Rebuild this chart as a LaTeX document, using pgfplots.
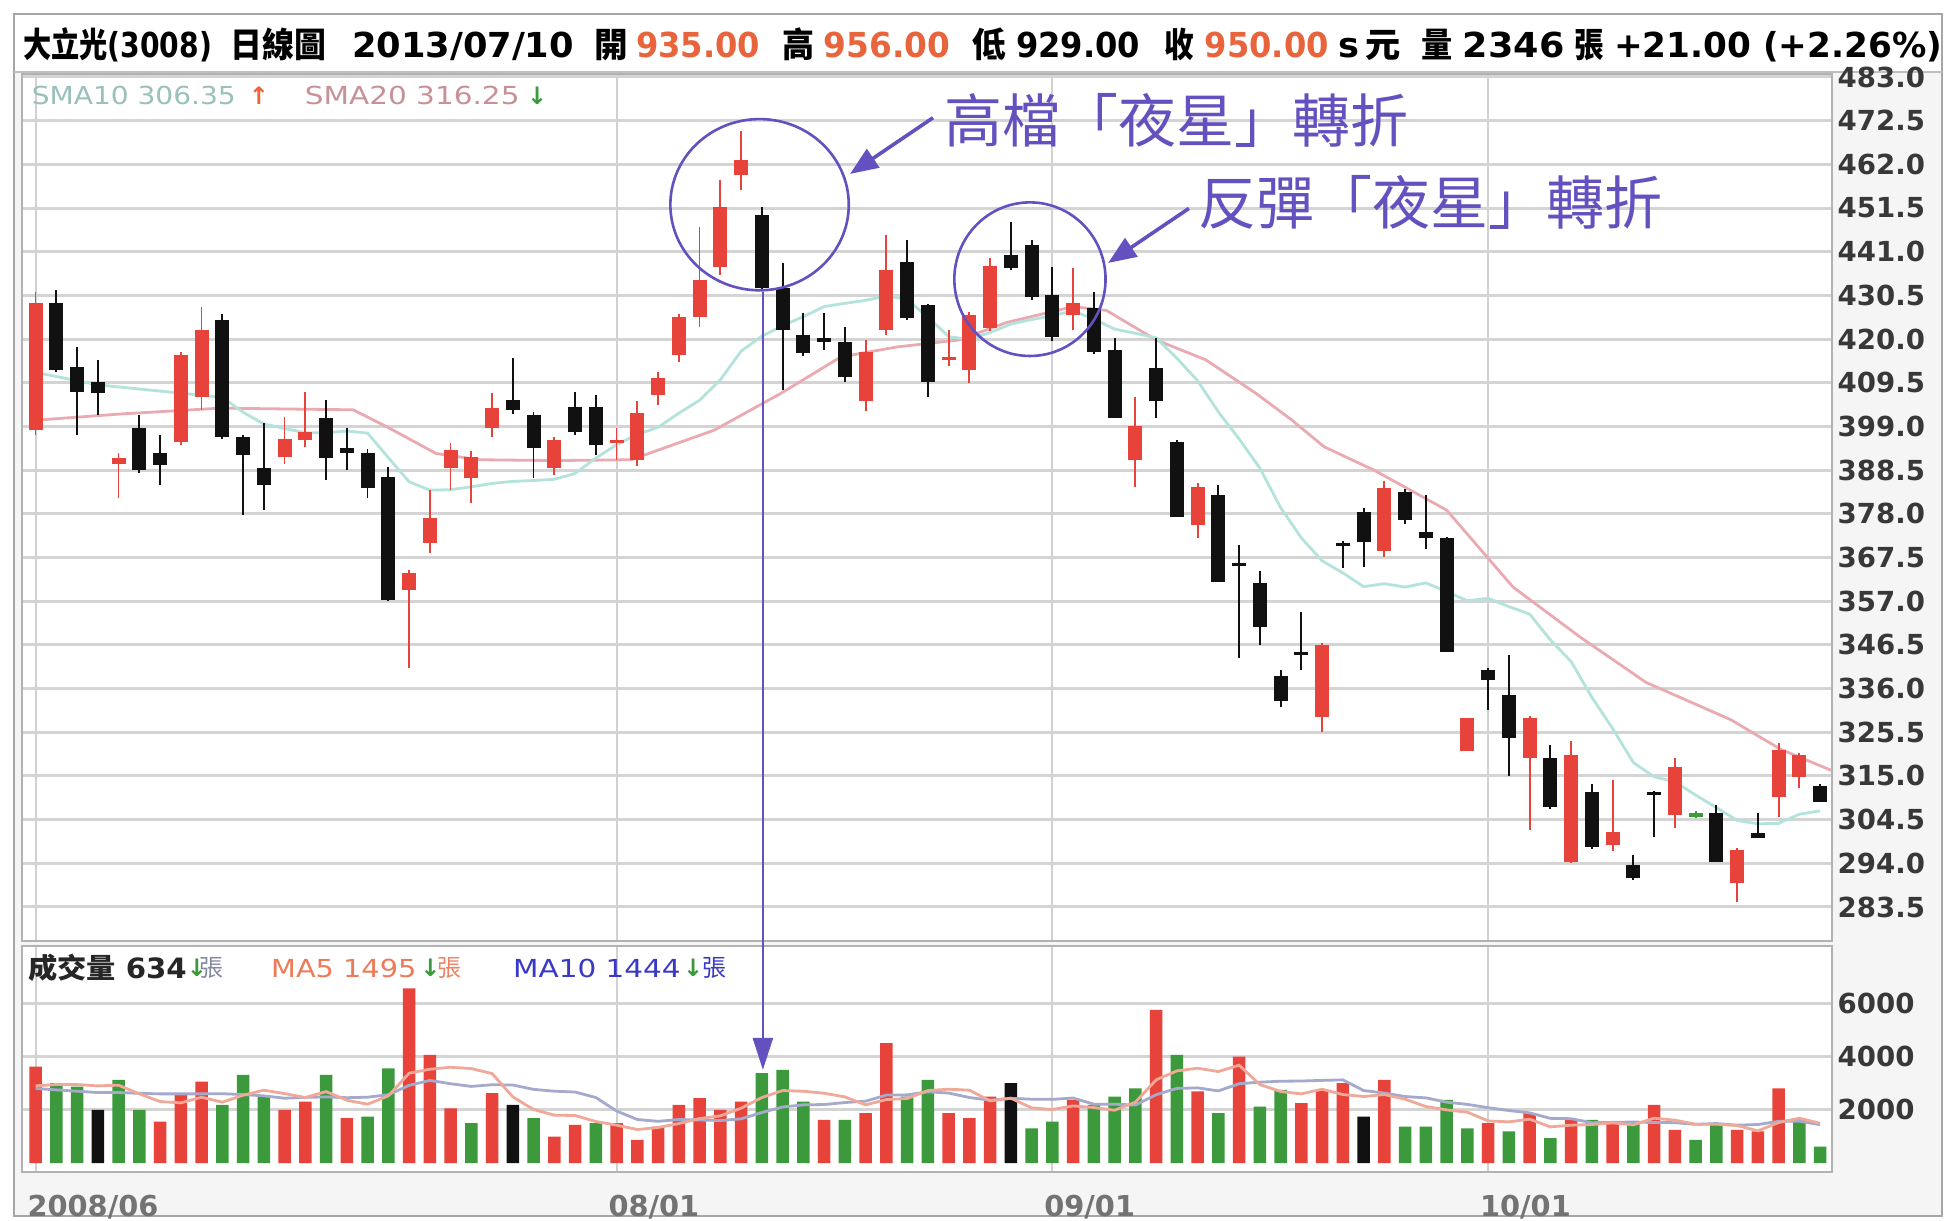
\documentclass[border=0pt]{standalone}
\usepackage{fontspec}
\setmainfont{DejaVu Sans}
\newfontfamily\cjk{Noto Sans CJK TC}
\usepackage{graphicx}
\usepackage{pgfplots}
\usepackage{pgfplotstable}
\pgfplotsset{compat=1.18}
\usetikzlibrary{arrows.meta}

\definecolor{cred}{HTML}{E8433A}
\definecolor{cblk}{HTML}{111111}
\definecolor{cgrn}{HTML}{3C9A3C}
\definecolor{sma10}{HTML}{B4E2DC}
\definecolor{sma20}{HTML}{EAAAB2}
\definecolor{vma5}{HTML}{F0A898}
\definecolor{vma10}{HTML}{A4AACC}
\definecolor{ann}{HTML}{6450BE}
\definecolor{hdrorange}{HTML}{E8643C}
\definecolor{framebg}{HTML}{F5F5F5}

% red (up) candles: body lo/hi, wick l/h
\pgfplotstableread{
i lo hi l h
0 398.1 428.7 397.0 431.3
4 390.0 391.5 381.8 392.6
7 395.3 416.2 394.5 417.0
8 406.2 422.2 403.0 427.8
12 391.7 396.0 390.0 401.3
13 395.7 397.7 394.0 407.4
18 359.7 363.8 340.9 364.5
19 371.0 377.0 368.6 383.7
20 389.0 393.3 383.7 395.0
21 386.6 391.7 380.6 393.0
22 398.6 403.5 396.5 407.0
25 389.0 395.7 387.3 396.5
28 395.0 395.8 390.9 398.6
29 390.9 402.2 389.5 405.0
30 406.6 410.6 404.2 412.0
31 416.2 425.4 414.5 426.0
32 425.4 434.2 423.0 447.0
33 437.4 451.8 435.5 458.2
34 459.4 463.0 455.8 469.9
40 405.0 417.0 402.6 419.8
41 422.2 436.6 421.0 445.0
44 415.0 415.8 413.5 422.2
45 412.6 425.8 409.4 426.5
46 422.6 437.5 422.0 439.5
50 425.8 428.6 422.2 437.0
53 391.0 399.0 384.5 406.2
56 375.3 384.5 372.1 385.5
62 329.1 346.4 325.5 347.0
65 369.0 384.3 367.7 386.0
69 320.9 328.9 320.9 328.9
72 319.3 328.9 302.0 329.5
74 294.4 320.0 294.0 323.3
76 298.4 301.6 297.0 314.0
79 305.6 317.2 302.4 319.3
82 289.2 297.2 284.8 297.8
84 310.0 321.3 305.2 323.0
85 314.8 320.0 312.0 320.5
}\upc

% black (down) candles
\pgfplotstableread{
i lo hi l h
1 412.6 428.7 412.0 431.8
2 407.4 413.4 396.9 418.2
3 407.0 409.8 401.7 415.0
5 388.5 398.6 387.9 401.7
6 389.7 392.6 384.9 396.9
9 396.5 424.6 396.0 426.0
10 392.1 396.5 377.7 397.0
11 384.9 389.0 378.9 399.8
14 391.4 401.0 386.1 405.4
15 392.6 393.8 388.5 398.6
16 384.2 392.6 381.8 393.5
17 357.3 386.9 357.0 389.3
23 403.0 405.4 402.0 415.5
24 393.8 401.7 386.6 402.5
26 397.7 403.7 397.0 407.4
27 394.5 403.7 392.1 406.6
35 432.2 449.8 431.5 451.8
36 422.2 432.2 407.8 438.3
37 416.7 421.0 416.0 426.3
38 419.3 420.3 417.4 426.3
39 411.0 419.4 409.8 423.0
42 425.0 438.6 424.5 443.8
43 409.8 428.2 406.2 428.5
47 437.0 440.2 436.5 448.2
48 430.2 442.6 429.5 443.8
49 420.6 430.6 419.5 437.4
51 417.0 427.4 416.5 431.4
52 401.0 417.4 401.0 420.2
54 405.0 413.0 401.0 420.2
55 377.3 395.3 377.3 395.8
57 361.6 382.5 361.6 385.0
58 365.5 366.3 343.4 370.6
59 350.9 361.3 346.4 364.3
60 333.0 339.0 331.5 340.5
61 344.0 344.8 340.4 354.5
63 370.2 371.0 364.9 371.5
64 371.3 378.5 365.3 379.5
66 376.5 383.3 375.5 384.0
67 372.1 373.7 369.5 382.5
68 344.9 372.1 344.9 372.5
70 338.1 340.5 330.9 341.0
71 324.0 334.5 314.9 344.1
73 307.6 319.3 307.0 322.5
75 298.0 311.2 297.5 313.0
77 290.4 293.6 290.0 296.0
78 310.4 311.2 300.4 311.5
81 294.4 306.0 294.4 308.0
83 300.0 301.3 300.0 306.0
86 308.8 312.6 308.8 313.0
}\dnc

% green doji
\pgfplotstableread{
i lo hi l h
80 305.2 306.0 305.0 306.5
}\grc

% volumes
\pgfplotstableread{
i v
0 3625
6 1560
7 2625
8 3060
12 2000
13 2310
15 1690
18 6560
19 4060
20 2060
22 2625
25 1000
26 1440
28 1500
29 875
30 1375
31 2190
32 2440
33 2000
34 2310
38 1625
40 1875
41 4500
44 1875
45 1690
46 2500
50 2375
54 5750
56 2690
58 4000
61 2250
62 2750
63 3000
65 3125
70 1500
72 1875
74 1625
76 1500
78 2190
79 1250
82 1250
83 1190
84 2810
}\volr

\pgfplotstableread{
i v
1 3000
2 2875
4 3125
5 2000
9 2190
10 3310
11 2500
14 3310
16 1750
17 3560
21 1500
24 1690
27 1500
35 3375
36 3500
37 2310
39 1625
42 2500
43 3125
48 1310
49 1560
51 2190
52 2500
53 2810
55 4060
57 1875
59 2125
60 2750
66 1375
67 1375
68 2375
69 1310
71 1190
73 940
75 1625
77 1500
80 875
81 1500
85 1690
86 625
}\volg

\pgfplotstableread{
i v
3 2000
23 2190
47 3000
64 1750
}\volk

\newcommand\hs[4]{\node[anchor=base west, inner sep=0pt] at (#1,290.5) {\resizebox{#2pt}{\height}{\color{#3}\fontsize{8.6}{10}\selectfont\bfseries #4}};}
\newcommand\ls[5]{\node[anchor=west, inner sep=0pt] at (#1,#2) {\resizebox{#3pt}{\height}{\color{#4}\fontsize{6.2}{7}\selectfont #5}};}
\pgfplotsset{
  candle/.style 2 args={draw=none, mark=none, forget plot,
    error bars/.cd, y dir=plus, y explicit, error mark=none,
    error bar style={draw=#1, line width=#2, solid}},
}

\begin{document}
\begin{tikzpicture}[x=1pt,y=1pt]
\useasboundingbox (0,0) rectangle (486.5,305);
\fill[white] (0,0) rectangle (486.5,305);
\fill[framebg] (3.5,1) rectangle (485.5,287);
\draw[black!35, line width=0.5pt] (3.5,1) rectangle (485.5,301.5);
\draw[black!25, line width=0.5pt] (3.5,287) -- (485.5,287);

% ---------------- price panel ----------------
\begin{axis}[
  at={(5.575pt,69.825pt)}, anchor=south west,
  scale only axis, width=452.35pt, height=216.55pt,
  xmin=-0.64, xmax=86.56, ymin=275.4, ymax=483.6,
  clip=false,
  axis background/.style={fill=white},
  axis line style={draw=black!30, line width=0.5pt},
  xtick={0,28,49,70}, xticklabels={}, xmajorgrids,
  ytick={283.5,294,304.5,315,325.5,336,346.5,357,367.5,378,388.5,399,409.5,420,430.5,441,451.5,462,472.5,483},
  ymajorgrids,
  x grid style={draw=black!18, line width=0.5pt},
  y grid style={draw=black!17, line width=0.75pt},
  major tick length=0pt,
  yticklabel pos=right,
  yticklabel style={font=\bfseries\fontsize{6.9}{8}\selectfont, text=black!78, anchor=west, inner sep=0pt, xshift=1.3pt},
  /pgf/number format/fixed, /pgf/number format/fixed zerofill,
  /pgf/number format/precision=1, /pgf/number format/assume math mode=true,
]
% moving averages
\addplot[sma20, line width=0.7pt] coordinates {
(0,400.5) (4.1,402.0) (8.9,403.4) (15.3,403.0) (16.9,399.0) (19.3,392.5) (21.4,391.0) (25,390.8) (28.7,391.0) (32.7,398.1) (35.9,406.9) (38.8,415.7) (41.5,418.1) (44.5,419.8) (46.8,424.0) (50.0,427.8) (51.6,426.9) (54.0,419.8) (56.4,415.0) (58.8,407.0) (60.5,400.7) (62.1,394.1) (64.5,388.5) (68.0,378.9) (71.2,360.4) (74.4,348.5) (77.6,337.5) (81.7,328.5) (84.1,321.4) (86.56,316.3)};
\addplot[sma10, line width=0.7pt] coordinates {
(0,412) (1,411) (2,410) (3,409) (4,408.5) (5,408) (6,407.5) (7,407) (8,406.5) (9,406.0) (10,402.4) (11,399.6) (12,398.5) (13,397.5) (14,397.5) (15,397.9) (16,397.4) (17,391.5) (18,385.7) (19,383.7) (20,383.8) (21,384.5) (22,385.3) (23,385.8) (24,386.0) (25,386.3) (26,387.7) (27,391.4) (28,394.6) (29,397.1) (30,398.8) (31,402.2) (32,405.3) (33,410.2) (34,417.1) (35,420.7) (36,423.2) (37,425.4) (38,427.8) (39,428.6) (40,429.3) (41,430.4) (42,429.5) (43,425.3) (44,420.6) (45,419.9) (46,421.6) (47,423.6) (48,424.7) (49,425.6) (50,426.8) (51,424.8) (52,422.4) (53,421.4) (54,420.3) (55,415.4) (56,410.0) (57,402.5) (58,396.0) (59,389.0) (60,379.5) (61,372.2) (62,366.7) (63,363.8) (64,360.5) (65,361.2) (66,360.4) (67,361.4) (68,359.3) (69,357.1) (70,357.7) (71,355.7) (72,353.9) (73,347.7) (74,342.5) (75,333.9) (76,326.4) (77,318.2) (78,314.8) (79,313.6) (80,310.4) (81,307.4) (82,304.3) (83,303.5) (84,303.6) (85,305.8) (86,306.6)};
% wicks
\addplot[candle={cred}{0.45pt}] table[x=i, y=l, y error plus expr=\thisrow{h}-\thisrow{l}] {\upc};
\addplot[candle={cblk}{0.45pt}] table[x=i, y=l, y error plus expr=\thisrow{h}-\thisrow{l}] {\dnc};
\addplot[candle={cgrn}{0.45pt}] table[x=i, y=l, y error plus expr=\thisrow{h}-\thisrow{l}] {\grc};
% bodies
\addplot[candle={cred}{3.5pt}] table[x=i, y=lo, y error plus expr=\thisrow{hi}-\thisrow{lo}] {\upc};
\addplot[candle={cblk}{3.5pt}] table[x=i, y=lo, y error plus expr=\thisrow{hi}-\thisrow{lo}] {\dnc};
\addplot[candle={cgrn}{3.5pt}] table[x=i, y=lo, y error plus expr=\thisrow{hi}-\thisrow{lo}] {\grc};
% annotations
\draw[ann, line width=0.65pt] (axis cs:34.89,452.3) ellipse [x radius=22.3pt, y radius=21.4pt];
\draw[ann, line width=0.65pt] (axis cs:47.92,434.4) ellipse [x radius=18.9pt, y radius=19.2pt];
\draw[ann, line width=0.9pt, -{Triangle[length=7pt,width=5.5pt]}] (axis cs:43.25,473.2) -- (axis cs:39.25,459.7);
\draw[ann, line width=0.9pt, -{Triangle[length=7pt,width=5.5pt]}] (axis cs:55.58,451.4) -- (axis cs:51.69,438.3);
\node[anchor=west, inner sep=0pt, text=ann, font=\cjk\fontsize{14.5}{16}\selectfont] at (axis cs:43.74,472.6) {高檔「夜星」轉折};
\node[anchor=west, inner sep=0pt, text=ann, font=\cjk\fontsize{14.5}{16}\selectfont] at (axis cs:56.0,452.9) {反彈「夜星」轉折};
\coordinate (A1) at (axis cs:35.05,431.4);
\end{axis}

% ---------------- volume panel ----------------
\begin{axis}[
  at={(5.575pt,12pt)}, anchor=south west,
  scale only axis, width=452.35pt, height=56.6pt,
  xmin=-0.64, xmax=86.56, ymin=-330, ymax=8160,
  axis background/.style={fill=white},
  axis line style={draw=black!30, line width=0.5pt},
  xtick={0,28,49,70}, xticklabels={2008/06,08/01,09/01,10/01}, xmajorgrids,
  ytick={2000,4000,6000}, ymajorgrids,
  x grid style={draw=black!18, line width=0.5pt},
  y grid style={draw=black!17, line width=0.75pt},
  major tick length=0pt,
  yticklabel pos=right,
  yticklabel style={font=\bfseries\fontsize{6.9}{8}\selectfont, text=black!78, anchor=west, inner sep=0pt, xshift=1.3pt},
  xticklabel style={font=\bfseries\fontsize{7.2}{8}\selectfont, text=black!55, anchor=north west, inner sep=0pt, xshift=-2.2pt, yshift=-5.5pt},
  /pgf/number format/1000 sep={}, /pgf/number format/assume math mode=true,
]
\addplot[ybar, bar width=3.1pt, bar shift=0pt, fill=cred, draw=none] table[x=i, y=v] {\volr};
\addplot[ybar, bar width=3.1pt, bar shift=0pt, fill=cgrn, draw=none] table[x=i, y=v] {\volg};
\addplot[ybar, bar width=3.1pt, bar shift=0pt, fill=cblk, draw=none] table[x=i, y=v] {\volk};
\addplot[vma10, line width=0.7pt] coordinates {
(0,2800) (1,2750) (2,2700) (3,2650) (4,2650) (5,2620) (6,2600) (7,2600) (8,2600) (9,2606) (10,2575) (11,2525) (12,2437) (13,2468) (14,2487) (15,2456) (16,2475) (17,2568) (18,2918) (19,3105) (20,2980) (21,2880) (22,2943) (23,2931) (24,2769) (25,2700) (26,2669) (27,2463) (28,1957) (29,1638) (30,1570) (31,1639) (32,1620) (33,1601) (34,1663) (35,1901) (36,2107) (37,2188) (38,2200) (39,2275) (40,2325) (41,2556) (42,2562) (43,2675) (44,2631) (45,2463) (46,2363) (47,2432) (48,2400) (49,2394) (50,2444) (51,2213) (52,2213) (53,2181) (54,2569) (55,2806) (56,2825) (57,2712) (58,2981) (59,3038) (60,3075) (61,3081) (62,3106) (63,3125) (64,2725) (65,2632) (66,2500) (67,2450) (68,2288) (69,2206) (70,2081) (71,1975) (72,1888) (73,1682) (74,1669) (75,1519) (76,1532) (77,1544) (78,1526) (79,1520) (80,1457) (81,1488) (82,1426) (83,1451) (84,1569) (85,1576) (86,1444)};
\addplot[vma5, line width=0.7pt] coordinates {
(0,2900) (1,2950) (2,2950) (3,2900) (4,2925) (5,2600) (6,2312) (7,2262) (8,2474) (9,2287) (10,2549) (11,2737) (12,2612) (13,2462) (14,2686) (15,2362) (16,2212) (17,2524) (18,3374) (19,3524) (20,3598) (21,3548) (22,3361) (23,2487) (24,2013) (25,1801) (26,1789) (27,1564) (28,1426) (29,1263) (30,1338) (31,1488) (32,1676) (33,1776) (34,2063) (35,2463) (36,2725) (37,2699) (38,2624) (39,2487) (40,2187) (41,2387) (42,2425) (43,2725) (44,2775) (45,2738) (46,2338) (47,2438) (48,2075) (49,2012) (50,2149) (51,2087) (52,1987) (53,2287) (54,3125) (55,3462) (56,3562) (57,3437) (58,3675) (59,2950) (60,2688) (61,2600) (62,2775) (63,2575) (64,2500) (65,2575) (66,2400) (67,2125) (68,2000) (69,1912) (70,1587) (71,1550) (72,1650) (73,1363) (74,1426) (75,1451) (76,1513) (77,1438) (78,1688) (79,1613) (80,1463) (81,1463) (82,1413) (83,1213) (84,1525) (85,1688) (86,1495)};
\coordinate (A2) at (axis cs:35.05,3500);
\end{axis}

% long vertical arrow
\draw[ann, line width=0.6pt, -{Triangle[length=8pt,width=5pt]}] (A1) -- (A2);

% ---------------- header ----------------
\hs{5.6}{47.2}{black}{{\cjk 大立光}(3008)}
\hs{57.4}{23.9}{black}{{\cjk 日線圖}}
\hs{87.8}{55.5}{black}{2013/07/10}
\hs{148.3}{8.4}{black}{{\cjk 開}}
\hs{158.8}{31.0}{hdrorange}{935.00}
\hs{195.5}{8.0}{black}{{\cjk 高}}
\hs{205.7}{31.6}{hdrorange}{956.00}
\hs{243.0}{8.4}{black}{{\cjk 低}}
\hs{253.8}{31.0}{black}{929.00}
\hs{291.0}{7.4}{black}{{\cjk 收}}
\hs{301.0}{31.0}{hdrorange}{950.00}
\hs{334.4}{15.5}{black}{s\,{\cjk 元}}
\hs{355.2}{7.8}{black}{{\cjk 量}}
\hs{365.5}{25.4}{black}{2346}
\hs{393.4}{7.4}{black}{{\cjk 張}}
\hs{403.3}{82.0}{black}{+21.00 (+2.26\%)}

% ---------------- legends ----------------
\ls{7.75}{281.1}{51}{sma10!85!black}{SMA10 306.35}
\node[anchor=west, inner sep=0pt, text=hdrorange, font=\bfseries\fontsize{6}{7}\selectfont] at (62,281.1) {↑};
\ls{76}{281.1}{53.7}{sma20!85!black}{SMA20 316.25}
\node[anchor=west, inner sep=0pt, text=cgrn, font=\bfseries\fontsize{6}{7}\selectfont] at (131.6,281.1) {↓};

\node[anchor=west, inner sep=0pt] at (6.8,63) {\resizebox{39.7pt}{\height}{\fontsize{7}{8}\selectfont\bfseries\color{black!85}{\cjk 成交量} 634}};
\node[anchor=west, inner sep=0pt, text=cgrn, font=\bfseries\fontsize{6}{7}\selectfont] at (46.5,63) {↓};
\node[anchor=west, inner sep=0pt, text=vma10!80!black, font=\cjk\fontsize{6}{7}\selectfont] at (49.6,63) {張};
\ls{67.6}{63}{36.3}{hdrorange!85}{MA5 1495}
\node[anchor=west, inner sep=0pt, text=cgrn, font=\bfseries\fontsize{6}{7}\selectfont] at (104.9,63) {↓};
\node[anchor=west, inner sep=0pt, text=hdrorange!80, font=\cjk\fontsize{6}{7}\selectfont] at (109.2,63) {張};
\ls{128.1}{63}{41.9}{blue!55!gray}{MA10 1444}
\node[anchor=west, inner sep=0pt, text=cgrn, font=\bfseries\fontsize{6}{7}\selectfont] at (170.6,63) {↓};
\node[anchor=west, inner sep=0pt, text=blue!55!gray, font=\cjk\fontsize{6}{7}\selectfont] at (175.3,63) {張};
\end{tikzpicture}
\end{document}
